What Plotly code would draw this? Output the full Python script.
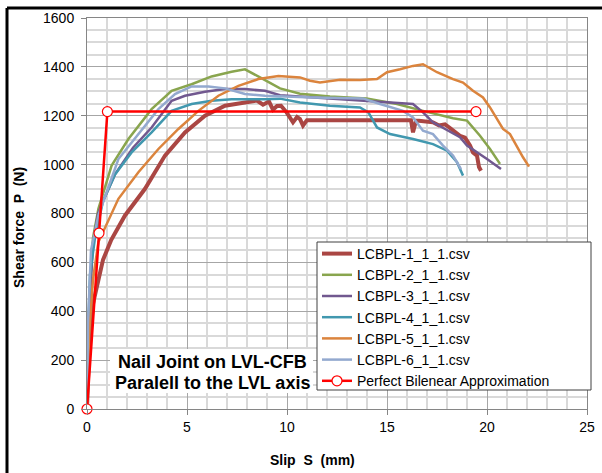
import plotly.graph_objects as go

# ---- data ----
s1_x = [0, 0.1, 0.3, 0.55, 0.8, 1.2, 1.9, 2.9, 3.9, 4.9, 5.9, 6.9, 7.9, 8.5, 8.8, 9.1, 9.3, 9.5, 9.7,
        9.98, 10.3, 10.5, 10.65, 10.8, 11.0, 16.2, 16.3, 16.45, 16.6, 17.0, 17.3, 17.6, 17.9, 18.15,
        18.4, 18.65, 18.9, 19.15, 19.3, 19.5, 19.6, 19.7]
s1_y = [0, 250, 430, 530, 610, 690, 792, 901, 1037, 1132, 1200, 1241, 1254, 1262, 1245, 1258, 1225,
        1240, 1241, 1214, 1173, 1195, 1186, 1160, 1182, 1182, 1132, 1180, 1180, 1175, 1173, 1160, 1165,
        1150, 1135, 1118, 1110, 1078, 1050, 1037, 990, 975]

s2_x = [0, 0.1, 0.3, 0.57, 1.23, 2.07, 3.23, 4.23, 5.23, 6.23, 7.23, 7.9, 8.65, 9.65, 10.65, 12.15,
        13.98, 15.5, 16.8, 18.3, 19.0, 19.65, 20.15, 20.65]
s2_y = [0, 400, 700, 819, 996, 1105, 1227, 1302, 1329, 1361, 1380, 1390, 1357, 1312, 1290, 1279,
        1271, 1248, 1220, 1190, 1180, 1118, 1064, 1003]

s3_x = [0, 0.1, 0.3, 0.55, 0.8, 1.4, 2.3, 3.23, 4.23, 4.9, 5.9, 6.9, 7.9, 8.9, 9.65, 11.3, 13.8,
        16.3, 16.8, 17.3, 18.65, 19.0, 20.0, 20.7]
s3_y = [0, 380, 680, 800, 850, 960, 1069, 1152, 1261, 1282, 1298, 1309, 1309, 1302, 1284, 1275, 1261,
        1248, 1214, 1173, 1112, 1078, 1023, 982]

s4_x = [0, 0.05, 0.15, 0.4, 0.8, 1.4, 2.23, 3.23, 4.23, 5.23, 6.23, 7.23, 8.9, 9.65, 10.65, 12.15,
        13.65, 14.07, 14.5, 15.15, 16.3, 17.3, 18.0, 18.5, 18.8]
s4_y = [0, 300, 550, 700, 850, 960, 1050, 1132, 1220, 1248, 1261, 1268, 1268, 1270, 1254, 1241,
        1234, 1214, 1152, 1125, 1105, 1084, 1057, 1010, 955]

s5_x = [0, 0.1, 0.3, 0.57, 1.57, 2.57, 3.57, 4.57, 5.57, 6.57, 7.57, 8.57, 9.57, 10.65, 11.15, 11.65,
        12.65, 13.65, 14.5, 15.0, 15.65, 16.3, 16.8, 17.5, 18.3, 18.8, 19.3, 19.8, 20.15, 20.5, 20.8,
        21.15, 21.5, 21.8, 22.1]
s5_y = [0, 300, 530, 683, 860, 969, 1064, 1146, 1220, 1282, 1322, 1350, 1363, 1357, 1343, 1336,
        1347, 1346, 1350, 1378, 1390, 1404, 1411, 1378, 1350, 1336, 1302, 1275, 1234, 1186, 1146,
        1125, 1071, 1030, 992]

s6_x = [0, 0.05, 0.2, 0.57, 1.57, 2.57, 3.57, 4.4, 5.23, 6.07, 6.9, 7.9, 8.9, 11.3, 13.8, 14.65,
        15.8, 16.3, 16.8, 17.3, 17.8, 18.3, 18.7]
s6_y = [0, 350, 650, 792, 1023, 1125, 1227, 1289, 1320, 1320, 1312, 1289, 1282, 1275, 1271, 1248,
        1220, 1193, 1139, 1125, 1078, 1037, 982]

bil_x = [0, 0.6, 1.02, 19.45]
bil_y = [0, 720, 1217, 1217]

names = ["LCBPL-1_1_1.csv", "LCBPL-2_1_1.csv", "LCBPL-3_1_1.csv",
         "LCBPL-4_1_1.csv", "LCBPL-5_1_1.csv", "LCBPL-6_1_1.csv"]
bil_name = "Perfect Bilenear Approximation"
note_lines = ["Nail Joint on LVL-CFB", "Paralell to the LVL axis"]
colors = ["#AA4643", "#89A54E", "#71588F", "#4198AF", "#DB843D", "#93A9CF"]
widths = [4, 2.5, 2.5, 2.5, 2.5, 2.5]

xs = [s1_x, s2_x, s3_x, s4_x, s5_x, s6_x]
ys = [s1_y, s2_y, s3_y, s4_y, s5_y, s6_y]

fig = go.Figure()
for x, y, n, c, w in zip(xs, ys, names, colors, widths):
    fig.add_trace(go.Scatter(x=x, y=y, name=n, mode="lines",
                             line=dict(color=c, width=w)))
fig.add_trace(go.Scatter(x=bil_x, y=bil_y, name=bil_name, mode="lines+markers",
                         line=dict(color="#FF0000", width=2.5),
                         marker=dict(symbol="circle", size=10, color="white",
                                     line=dict(color="#FF0000", width=1.2)),
                         cliponaxis=False))

font_family = "Liberation Sans, Arial, sans-serif"


def px_x(p):
    return (p - 87) / 500


def px_y(p):
    return (409 - p) / 391


annotations = [
    dict(text="<b>Slip  S  (mm)</b>", xref="paper", yref="paper",
         x=px_x(312), y=px_y(460), xanchor="center", yanchor="middle",
         showarrow=False, font=dict(size=14, family=font_family, color="#000")),
    dict(text="<b>Shear force  P  (N)</b>", xref="paper", yref="paper",
         x=px_x(19), y=px_y(228), xanchor="center", yanchor="middle",
         textangle=-90, showarrow=False, font=dict(size=14, family=font_family, color="#000")),
]
for line_txt, ypix in zip(note_lines, [362, 383]):
    annotations.append(dict(text="<b>" + line_txt + "</b>", xref="paper", yref="paper",
                            x=px_x(212), y=px_y(ypix), xanchor="center", yanchor="middle",
                            showarrow=False,
                            font=dict(size=18, family=font_family, color="#000")))

fig.update_layout(
    width=602, height=473,
    margin=dict(l=87, r=15, t=18, b=64, autoexpand=False),
    paper_bgcolor="white", plot_bgcolor="white",
    font=dict(family=font_family, size=14, color="#000000"),
    showlegend=True,
    legend=dict(x=px_x(317), y=px_y(238), xanchor="left", yanchor="top",
                bgcolor="rgba(0,0,0,0)", borderwidth=0,
                font=dict(size=14, family=font_family, color="#000000"),
                itemwidth=30, tracegroupgap=0),
    xaxis=dict(range=[0, 25], dtick=5, tick0=0, showgrid=True,
               gridcolor="#A6A6A6", gridwidth=1,
               minor=dict(dtick=1, showgrid=True, gridcolor="#D9D9D9", gridwidth=1.5),
               showline=True, linecolor="#868686", linewidth=1, mirror=True,
               ticks="outside", ticklen=5, tickcolor="#868686",
               zeroline=False, tickfont=dict(size=14)),
    yaxis=dict(range=[0, 1600], dtick=200, tick0=0, showgrid=True,
               gridcolor="#A6A6A6", gridwidth=1,
               minor=dict(dtick=50, showgrid=True, gridcolor="#D9D9D9", gridwidth=1.5),
               showline=True, linecolor="#868686", linewidth=1, mirror=True,
               ticks="outside", ticklen=5, tickcolor="#868686", ticklabelstandoff=4,
               zeroline=False, tickfont=dict(size=14)),
    annotations=annotations,
    shapes=[
        dict(type="rect", xref="paper", yref="paper", layer="above",
             x0=px_x(110), x1=px_x(313), y0=px_y(393), y1=px_y(349),
             fillcolor="white", line=dict(width=0)),
        dict(type="rect", xref="paper", yref="paper", layer="above",
             x0=px_x(317), x1=px_x(591), y0=px_y(390), y1=px_y(242),
             fillcolor="white", line=dict(color="#404040", width=1)),
        dict(type="line", xref="paper", yref="paper",
             x0=px_x(7), x1=px_x(640), y0=px_y(8), y1=px_y(8),
             line=dict(color="black", width=3)),
        dict(type="line", xref="paper", yref="paper",
             x0=px_x(7), x1=px_x(7), y0=px_y(8), y1=px_y(500),
             line=dict(color="black", width=3)),
    ],
)

fig.write_html("out.html", config={"displayModeBar": False},
               post_script="document.body.style.margin='0px';document.body.style.overflow='hidden';")
